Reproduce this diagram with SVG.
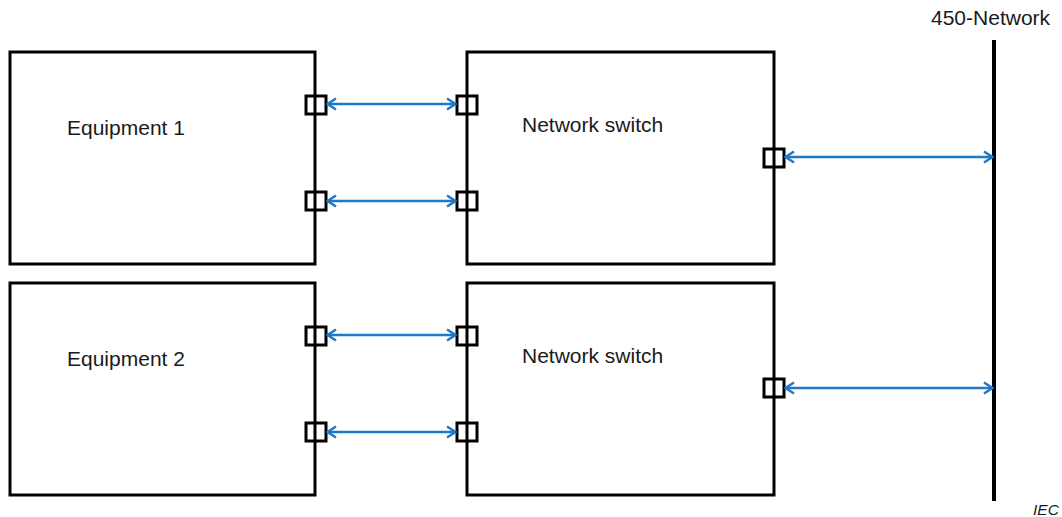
<svg xmlns="http://www.w3.org/2000/svg" width="1062" height="517" viewBox="0 0 1062 517">
<style>
.box{fill:#fff;stroke:#000;stroke-width:3}
.port{fill:none;stroke:#000;stroke-width:3}
.lbl{font-family:"Liberation Sans",Arial,sans-serif;font-size:21px;fill:#1a1a1a}
.conn{stroke:#1f78c8;stroke-width:2.5;fill:none;marker-start:url(#ah);marker-end:url(#ah)}
</style>
<defs>
<marker id="ah" viewBox="0 0 14 14" refX="13" refY="7" markerWidth="14" markerHeight="14" markerUnits="userSpaceOnUse" orient="auto-start-reverse">
<path d="M4,1.5 L12.5,7 L4,12.5" fill="none" stroke="#1f78c8" stroke-width="2.5"/>
</marker>
</defs>
<rect width="1062" height="517" fill="#fff"/>
<g id="eq1">
<rect class="box" x="10" y="52" width="305" height="212"/>
<text class="lbl" x="67" y="135">Equipment 1</text>
</g>
<g id="sw1">
<rect class="box" x="467" y="52" width="307" height="212"/>
<text class="lbl" x="522" y="132">Network switch</text>
</g>
<g id="eq2">
<rect class="box" x="10" y="283" width="305" height="212"/>
<text class="lbl" x="67" y="366">Equipment 2</text>
</g>
<g id="sw2">
<rect class="box" x="467" y="283" width="307" height="212"/>
<text class="lbl" x="522" y="363">Network switch</text>
</g>
<g id="network">
<line x1="994" y1="40" x2="994" y2="501" stroke="#000" stroke-width="4"/>
<text class="lbl" x="931" y="25">450-Network</text>
</g>
<g id="ports">
<rect class="port" x="306" y="96" width="20" height="18"/>
<rect class="port" x="306" y="192" width="20" height="18"/>
<rect class="port" x="457" y="96" width="20" height="18"/>
<rect class="port" x="457" y="192" width="20" height="18"/>
<rect class="port" x="764" y="149" width="20" height="18"/>
<rect class="port" x="306" y="327" width="20" height="18"/>
<rect class="port" x="306" y="423" width="20" height="18"/>
<rect class="port" x="457" y="327" width="20" height="18"/>
<rect class="port" x="457" y="423" width="20" height="18"/>
<rect class="port" x="764" y="379" width="20" height="18"/>
</g>
<g id="connectors">
<line class="conn" x1="327" y1="104" x2="456" y2="104"/>
<line class="conn" x1="327" y1="201" x2="456" y2="201"/>
<line class="conn" x1="785" y1="157" x2="993" y2="157"/>
<line class="conn" x1="327" y1="335" x2="456" y2="335"/>
<line class="conn" x1="327" y1="432" x2="456" y2="432"/>
<line class="conn" x1="785" y1="388" x2="993" y2="388"/>
</g>
<text x="1033" y="515" style="font-family:'Liberation Sans',Arial,sans-serif;font-size:15.5px;font-style:italic;fill:#1a1a1a">IEC</text>
</svg>
